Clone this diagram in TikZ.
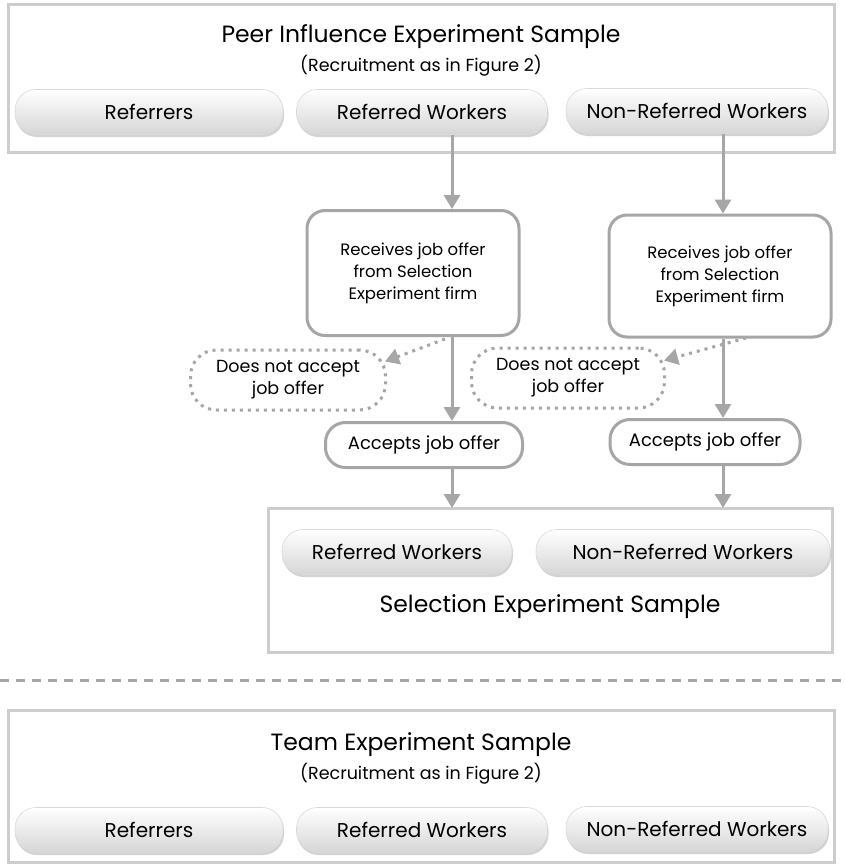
\documentclass[tikz,border=0pt]{standalone}
\usepackage{fontspec}
\setmainfont{Poppins}
\usetikzlibrary{arrows.meta,shadows,calc,shapes.misc}
\definecolor{boxgray}{HTML}{CDCDCD}
\definecolor{arrgray}{HTML}{A6A6A6}
\definecolor{pillbot}{HTML}{D6D6D6}
\tikzset{
  outerbox/.style={draw=boxgray, line width=3pt, fill=white, drop shadow={shadow xshift=1pt,shadow yshift=-2pt,opacity=0.25}},
  pill/.style={rounded corners=21pt, top color=white, bottom color=pillbot, draw=black!15, line width=0.6pt,
     drop shadow={shadow xshift=1pt,shadow yshift=-2.5pt,opacity=0.35}, minimum height=45pt, inner sep=0pt,
     font=\fontsize{20}{22}\selectfont},
  stepbox/.style={draw=arrgray, line width=3pt, rounded corners=18pt, fill=white, align=center, inner sep=0pt,
     font=\fontsize{16.5}{22}\selectfont},
  dotbox/.style={draw=arrgray, line width=3pt, dash pattern=on 3pt off 5pt, rounded corners=26pt, align=center, inner sep=0pt,
     font=\fontsize{17.5}{22}\selectfont},
  arr/.style={draw=arrgray, line width=3pt, -{Triangle[width=16pt,length=14pt]}},
  dotarr/.style={draw=arrgray, line width=3pt, dash pattern=on 3pt off 5pt, -{Triangle[width=16pt,length=14pt]}},
  ttl/.style={font=\fontsize{23.5}{26}\selectfont},
  sub/.style={font=\fontsize{17.5}{20}\selectfont},
}
\begin{document}
\begin{tikzpicture}[x=1pt,y=-1pt]
\useasboundingbox (0,0) rectangle (844,867);
\fill[white] (0,0) rectangle (844,867);
% top box
\draw[outerbox] (8,5) rectangle (834,152);
\node[ttl] (t1) at (421,37) {Peer Influence Experiment Sample};
\node[sub] (s1) at (421,66) {(Recruitment as in Figure 2)};
\node[pill, minimum width=268pt] (r1) at (149,112) {Referrers};
\node[pill, minimum width=251pt] (rw1) at (422,112) {Referred Workers};
\node[pill, minimum width=262pt] (nr1) at (697,111) {Non-Referred Workers};
% middle
\node[stepbox, minimum width=212pt, minimum height=125pt] (rec1) at (413,273) {Receives job offer\\from Selection\\Experiment firm};
\node[stepbox, minimum width=222pt, minimum height=122pt] (rec2) at (720,276) {Receives job offer\\from Selection\\Experiment firm};
\node[dotbox, minimum width=195pt, minimum height=60pt] (no1) at (288,380) {Does not accept\\job offer};
\node[dotbox, minimum width=193pt, minimum height=60pt] (no2) at (568,378) {Does not accept\\job offer};
\node[stepbox, rounded corners=20pt, minimum width=197pt, minimum height=45pt, font=\fontsize{18}{22}\selectfont] (acc1) at (424,445) {Accepts job offer};
\node[stepbox, rounded corners=20pt, minimum width=190pt, minimum height=45pt, font=\fontsize{18}{22}\selectfont] (acc2) at (705,442) {Accepts job offer};
% selection box
\draw[outerbox] (268,508) rectangle (832,652);
\node[pill, minimum width=230pt] (rw2) at (397,552) {Referred Workers};
\node[pill, minimum width=294pt] (nr2) at (683,552) {Non-Referred Workers};
\node[ttl] (t2) at (550,607) {Selection Experiment Sample};
% arrows
\coordinate (a1) at (452,0);
\coordinate (a2) at (723,0);
\coordinate (sel) at (0,508);
\draw[arr] (rw1.south -| a1) -- (rec1.north -| a1);
\draw[arr] (nr1.south -| a2) -- (rec2.north -| a2);
\draw[arr] (rec1.south -| a1) -- (acc1.north -| a1);
\draw[arr] (rec2.south -| a2) -- (acc2.north -| a2);
\draw[arr] (acc1.south -| a1) -- (sel -| a1);
\draw[arr] (acc2.south -| a2) -- (sel -| a2);
\coordinate (d1s) at (445,339);
\coordinate (d2s) at (746,338);
\draw[dotarr] (d1s) -- ($(no1.north east)+(-2,13)$);
\draw[dotarr] (d2s) -- ($(no2.north east)+(-2,14)$);
% dashed separator
\coordinate (dl) at (0,680);
\coordinate (dr) at (844,680);
\draw[arrgray, line width=3pt, dash pattern=on 9pt off 7pt] (dl) -- (dr);
% team box
\draw[outerbox] (8,710) rectangle (834,862);
\node[ttl] (t3) at (421,745) {Team Experiment Sample};
\node[sub] (s3) at (421,774) {(Recruitment as in Figure 2)};
\node[pill, minimum width=268pt] (r3) at (149,830) {Referrers};
\node[pill, minimum width=251pt] (rw3) at (422,830) {Referred Workers};
\node[pill, minimum width=262pt] (nr3) at (697,829) {Non-Referred Workers};
\end{tikzpicture}
\end{document}
